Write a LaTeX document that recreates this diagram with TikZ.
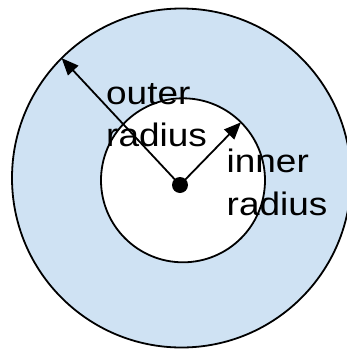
\documentclass[tikz,border=0pt]{standalone}
\usepackage{fontspec}
\newfontfamily\lab[FakeStretch=1.137]{Liberation Sans}
\usetikzlibrary{arrows.meta}
\definecolor{ringblue}{HTML}{CFE2F3}
\tikzset{
  ring/.style={circle, draw=black, line width=1.8pt, inner sep=0pt, outer sep=0pt},
  arr/.style={line width=1.8pt, -{Triangle[length=17pt,width=14pt]}},
  lbl/.style={anchor=base west, inner sep=0pt, align=left, font=\lab\fontsize{32.5}{42.7}\selectfont}
}
\begin{document}
\begin{tikzpicture}[x=1pt,y=-1pt]
\useasboundingbox (0,0) rectangle (347,349);
\node[ring, fill=ringblue, minimum size=339pt] (outer) at (181.5,178) {};
\node[ring, fill=white, minimum size=164pt] (inner) at (183,180.3) {};
\node[circle, fill=black, inner sep=0pt, minimum size=16pt] (dot) at (180,185) {};
\draw[arr] (dot.center) -- (outer.135);
\draw[arr] (dot.center) -- (inner.45);
\node[lbl] (outerlbl) at (106,146.7) {outer\\radius};
\node[lbl] (innerlbl) at (226.5,215.5) {inner\\radius};
\end{tikzpicture}
\end{document}
